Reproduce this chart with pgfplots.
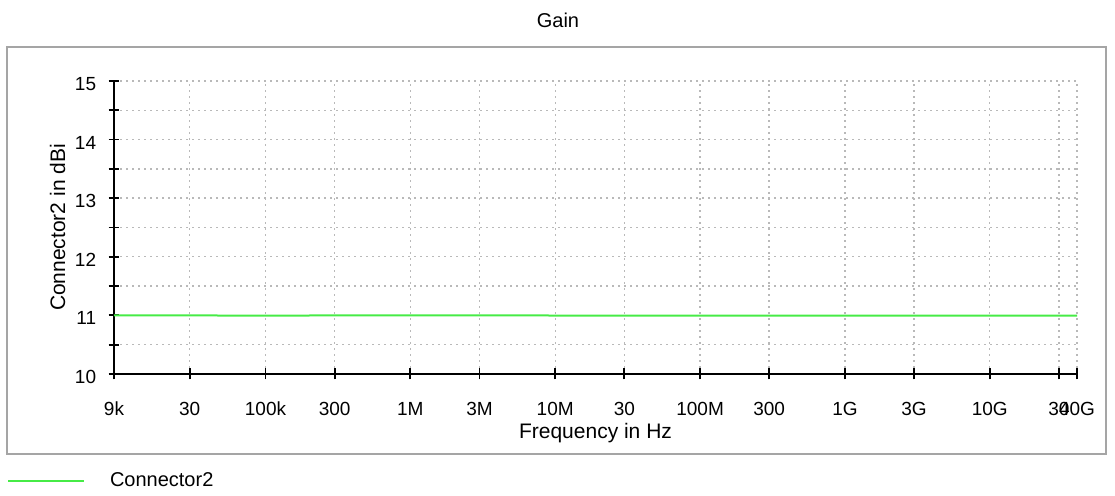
\documentclass[border=0pt]{standalone}
\usepackage{pgfplots}
\pgfplotsset{compat=1.18}
\usepackage{fontspec}
\setmainfont{Liberation Sans}
\definecolor{trace}{RGB}{70,235,70}
\definecolor{gridc}{RGB}{185,185,185}
\definecolor{framec}{RGB}{165,165,165}

\begin{document}
\begin{tikzpicture}
% page size and outer frame (0.5pt per pixel of the reference)
\path[use as bounding box] (-57pt,-61pt) rectangle (500.5pt,187pt);
\draw[framec, line width=1pt] (-53.5pt,-40pt) rectangle (496pt,163.5pt);
\node[font=\fontsize{10}{12}\selectfont] at (222pt,177pt) {Gain};

\begin{axis}[
    scale only axis,
    width=481.5pt, height=146.5pt,
    xmode=log,
    xmin=9e3, xmax=4e10,
    ymin=10, ymax=15,
    axis lines=left,
    axis line style={-, line width=1pt},
    xtick={9e3,3e4,1e5,3e5,1e6,3e6,1e7,3e7,1e8,3e8,1e9,3e9,1e10,3e10,4e10},
    xticklabels={9k,30,100k,300,1M,3M,10M,30,100M,300,1G,3G,10G,30,40G},
    ytick={10,11,12,13,14,15},
    minor ytick={10.5,11.5,12.5,13.5,14.5},
    minor x tick num=0,
    tick align=center,
    major tick length=5.5pt, minor tick length=5.5pt,
    tick style={black, line width=0.9pt},
    grid=both,
    grid style={gridc, line width=0.7pt, dash pattern=on 0.8pt off 2.2pt},
    minor grid style={gridc, line width=0.7pt, dash pattern=on 0.8pt off 2.2pt},
    ticklabel style={font=\fontsize{9.5}{11}\selectfont, inner sep=0pt},
    xticklabel style={anchor=base, yshift=-18pt},
    yticklabel style={anchor=east, xshift=-6pt, yshift=-1.5pt},
    /pgf/number format/assume math mode=true,
    label style={font=\fontsize{10.5}{12}\selectfont},
    xlabel={Frequency in Hz},
    ylabel={Connector2 in dBi},
    xlabel style={at={([yshift=-32.5pt]axis description cs:0.5,0)}, anchor=base},
    ylabel style={at={([xshift=-24.5pt]axis description cs:0,0.5)}, anchor=base},
    legend style={at={(axis description cs:0,0)}, anchor=west,
        xshift=-53.5pt, yshift=-53.5pt, draw=none, fill=none,
        inner sep=0pt, outer sep=0pt,
        font=\fontsize{10}{12}\selectfont,
        legend cell align=left,
        nodes={inner sep=0pt},
        /tikz/every even column/.append style={column sep=0pt}},
    legend image code/.code={\draw[#1] (0pt,0pt) -- (38pt,0pt);},
]
\addplot[trace, line width=1pt] coordinates {
    (9e3,11.0) (3e4,11.0) (1e5,10.995) (3e5,11.0) (1e6,11.0) (3e6,11.0)
    (1e7,10.998) (3e7,10.998) (1e8,10.997) (3e8,10.997) (1e9,10.997)
    (3e9,10.996) (1e10,10.996) (3e10,10.996) (4e10,10.996)
};
\addlegendentry{\hspace{12.5pt}Connector2}
\end{axis}
\end{tikzpicture}
\end{document}
